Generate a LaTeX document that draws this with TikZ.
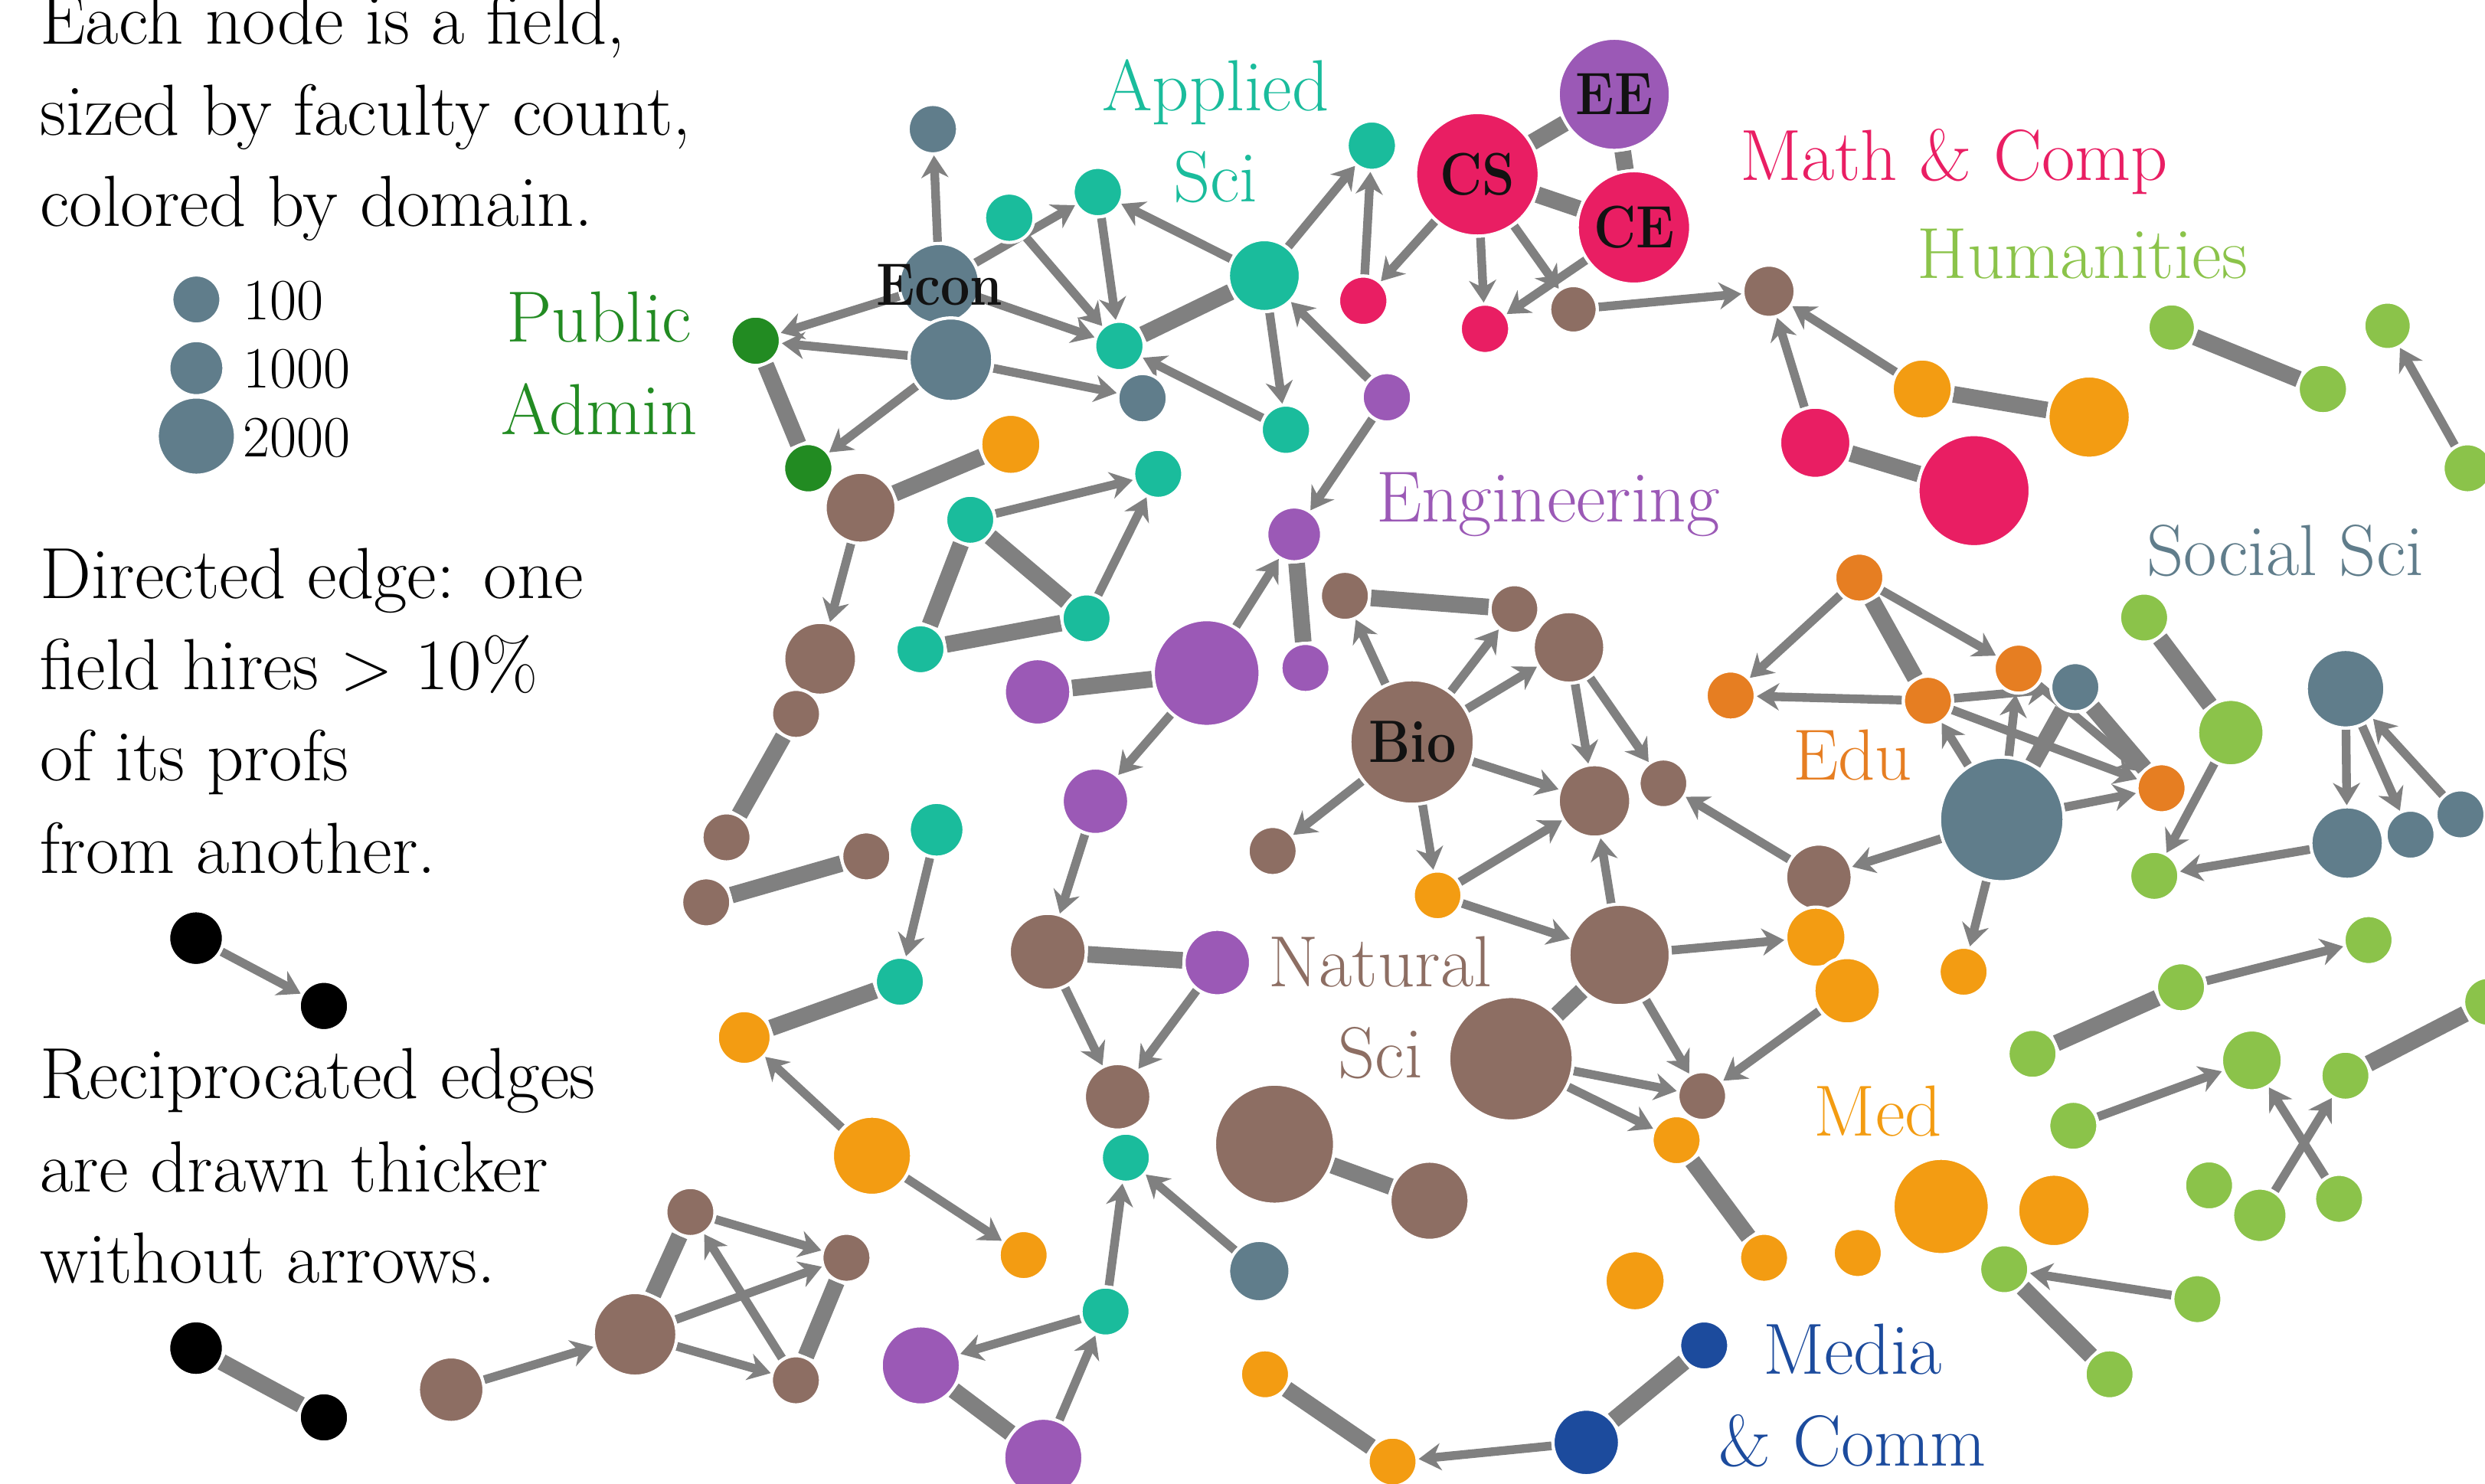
\documentclass[tikz,border=0pt]{standalone}
\usetikzlibrary{arrows.meta}

\definecolor{slate}{HTML}{607D8B}
\definecolor{tealc}{HTML}{1ABC9C}
\definecolor{mathred}{HTML}{E91E63}
\definecolor{engpurple}{HTML}{9B59B6}
\definecolor{natbrown}{HTML}{8D6E63}
\definecolor{medorange}{HTML}{F39C12}
\definecolor{eduorange}{HTML}{E67E22}
\definecolor{humgreen}{HTML}{8BC34A}
\definecolor{pagreen}{HTML}{228B22}
\definecolor{mcblue}{HTML}{1C4B9D}
\definecolor{edgegray}{HTML}{808080}

\pgfdeclarelayer{edges}
\pgfsetlayers{edges,main}

\newcommand{\fieldname}[1]{\scalebox{0.87}[1]{#1}}

\tikzset{
  fld/.style={circle, draw=white, line width=0.04cm, inner sep=0pt, outer sep=0.02cm,
              minimum size=#1*0.04cm+0.04cm},
  soc/.style={fld=#1, fill=slate},
  app/.style={fld=#1, fill=tealc},
  mth/.style={fld=#1, fill=mathred},
  eng/.style={fld=#1, fill=engpurple},
  nat/.style={fld=#1, fill=natbrown},
  med/.style={fld=#1, fill=medorange},
  edu/.style={fld=#1, fill=eduorange},
  hum/.style={fld=#1, fill=humgreen},
  pub/.style={fld=#1, fill=pagreen},
  mcm/.style={fld=#1, fill=mcblue},
  blk/.style={fld=#1, fill=black},
  dir/.style={draw=edgegray, line width=0.11cm,
              -{Stealth[length=0.28cm,width=0.34cm,inset=0.09cm]}},
  rec/.style={draw=edgegray, line width=0.21cm},
  txt/.style={inner sep=0pt, anchor=base west, text=black,
              font=\fontsize{26}{33}\selectfont},
  lab/.style={inner sep=0pt, anchor=base, font=\fontsize{26}{33}\selectfont},
  num/.style={inner sep=0pt, anchor=base west, text=black,
              font=\fontsize{21}{25}\selectfont},
  bold/.style={inner sep=0pt, text=black!93, font=\fontsize{21.5}{24}\selectfont\bfseries},
}

\begin{document}
\begin{tikzpicture}[x=0.02cm, y=-0.02cm]
\useasboundingbox (0,0) rectangle (1568,936);

% ---------- explanatory text ----------
\node[txt] (t1a) at (25,27.6)  {Each node is a field,};
\node[txt] (t1b) at (25,85.2)  {sized by faculty count,};
\node[txt] (t1c) at (25,142.8) {colored by domain.};
\node[txt] (t2a) at (25,377.6) {Directed edge: one};
\node[txt] (t2b) at (25,435.1) {field hires $>$ 10\%};
\node[txt] (t2c) at (25,492.7) {of its profs};
\node[txt] (t2d) at (25,551)   {from another.};
\node[txt] (t3a) at (25,693.2) {Reciprocated edges};
\node[txt] (t3b) at (25,751.9) {are drawn thicker};
\node[txt] (t3c) at (25,809.4) {without arrows.};

% ---------- size legend ----------
\node[soc=14.5] (lg1) at (123.9,189) {};
\node[soc=16.4] (lg2) at (123.9,232.3) {};
\node[soc=23.7] (lg3) at (123.9,275.2) {};
\node[num] (n100)  at (153,201.7) {100};
\node[num] (n1000) at (153,244.8) {1000};
\node[num] (n2000) at (153,288)   {2000};

% ---------- edge legend ----------
\node[blk=16.3] (bk1) at (123.7,592) {};
\node[blk=14.6] (bk2) at (204.4,634.8) {};
\node[blk=16.3] (bk3) at (123.7,850.7) {};
\node[blk=14.6] (bk4) at (204.4,894.4) {};

% ---------- domain labels ----------
\node[lab, text=tealc]      (lApp1) at (767,70)     {Applied};
\node[lab, text=tealc]      (lApp2) at (767,127.3)  {Sci};
\node[lab, text=pagreen]    (lPub1) at (378,215.7)  {Public};
\node[lab, text=pagreen]    (lPub2) at (378,274)    {Admin};
\node[lab, text=mathred]    (lMath) at (1233,113.7) {Math \& Comp};
\node[lab, text=humgreen]   (lHum)  at (1314,175.8) {Humanities};
\node[lab, text=engpurple, anchor=base west] (lEng) at (868,329.4) {Engineering};
\node[lab, text=slate]      (lSoc)  at (1442,363)   {Social Sci};
\node[lab, text=eduorange]  (lEdu)  at (1169,491.9) {Edu};
\node[lab, text=natbrown]   (lNat1) at (871,622.5)  {Natural};
\node[lab, text=natbrown]   (lNat2) at (871,680)    {Sci};
\node[lab, text=medorange]  (lMed)  at (1185,717)   {Med};
\node[lab, text=mcblue]     (lMc1)  at (1169,867)   {Media};
\node[lab, text=mcblue]     (lMc2)  at (1169,925)   {\& Comm};

% ---------- field nodes ----------
% public admin / economics
\node[pub=14.6] (pa1) at (476.8,215) {};
\node[pub=14.6] (pa2) at (510,295.5) {};
\node[soc=14.6] (stop) at (588.6,81.5) {};
\node[soc=24.4] (econ) at (592.7,179) {};
\node[soc=25.4] (sbg) at (600,227) {};
\node[soc=14.6] (ssm) at (720.9,251.3) {};
% applied sciences
\node[app=14.6] (a1) at (636.8,137.4) {};
\node[app=14.6] (a2) at (692.7,121.2) {};
\node[app=14.6] (a3) at (706.3,218.3) {};
\node[app=21.7] (abig) at (797.8,173.9) {};
\node[app=14.6] (a4) at (865.6,91.9) {};
\node[app=14.6] (a5) at (811.4,271.2) {};
\node[mth=14.6] (m1) at (860.2,189.8) {};
\node[eng=14.6] (p1) at (875.1,250.7) {};
\node[eng=16.3] (p2) at (816.6,337.2) {};
% math & computing
\node[mth=38]   (cs) at (932.2,110) {};
\node[eng=34.4] (ee) at (1018.6,59.5) {};
\node[mth=34.8] (ce) at (1031,143.5) {};
\node[mth=14.6] (m2) at (937,207.5) {};
\node[nat=14]   (b1) at (992.8,195.2) {};
\node[nat=15.5] (b2) at (1116.2,183.8) {};
\node[med=18]   (o1) at (1212.9,245.5) {};
\node[med=25]   (o2) at (1318.2,263.2) {};
\node[mth=21.5] (m3) at (1145.4,279.4) {};
\node[mth=34.4] (m4) at (1245.6,309.6) {};
% humanities, top right
\node[hum=14]   (h1) at (1370.3,206.7) {};
\node[hum=14.6] (h2) at (1465.7,245.5) {};
\node[hum=14]   (h3) at (1506.5,205.6) {};
\node[hum=14.5] (h4) at (1557,295.5) {};
% left middle
\node[med=18]   (org) at (637.8,280.4) {};
\node[nat=21.4] (b3) at (543,320.4) {};
\node[app=14.5] (a6) at (612.2,328) {};
\node[app=14.5] (a7) at (730.8,299) {};
\node[app=14.5] (a8) at (685.6,390.2) {};
\node[app=14.5] (a9) at (580.8,409.7) {};
\node[nat=22]   (b4) at (517.5,415.7) {};
\node[nat=14.5] (b5) at (502.3,450.5) {};
\node[nat=14.5] (b6) at (458.4,528.4) {};
\node[nat=14.5] (b7) at (445.6,569.4) {};
\node[nat=14.5] (b8) at (546.6,540.4) {};
\node[app=16.3] (a10) at (591,523.6) {};
% engineering
\node[eng=20]   (p3) at (654.7,436.6) {};
\node[eng=32.7] (pbig) at (761.4,424.7) {};
\node[eng=14.5] (p4) at (823.7,421.5) {};
\node[eng=20]   (p5) at (691.2,505.6) {};
% natural sciences
\node[nat=14.5] (b9)  at (848.6,376) {};
\node[nat=14.4] (b10) at (955.6,384.3) {};
\node[nat=21.6] (b11) at (990,408.5) {};
\node[nat=38.3] (bio) at (891,468.2) {};
\node[nat=21.9] (b12) at (1006.1,505.4) {};
\node[nat=14.4] (b13) at (1049.6,494.3) {};
\node[nat=14.5] (b14) at (803,537) {};
\node[med=14.4] (o3)  at (907.1,565) {};
\node[nat=31]   (b15) at (1021.9,602.6) {};
\node[nat=38.3] (b16) at (953.4,668.1) {};
\node[nat=20]   (b17) at (1147.7,553.6) {};
\node[med=18]   (o4)  at (1145.8,591.4) {};
\node[med=20]   (o5)  at (1165.5,625.2) {};
\node[nat=14.4] (b18) at (1074.1,691.6) {};
\node[med=14.5] (o6)  at (1057.9,719.5) {};
% education / social sciences
\node[edu=14.5] (e1) at (1173.2,364.5) {};
\node[edu=14.5] (e2) at (1092,438.9) {};
\node[edu=14.5] (e3) at (1216.5,442.2) {};
\node[edu=14.5] (e4) at (1273.7,421.9) {};
\node[soc=14.5] (s1) at (1309.5,433.6) {};
\node[edu=14.5] (e5) at (1363.9,497.4) {};
\node[soc=38.3] (sbig) at (1263.1,517.1) {};
\node[med=14.5] (o7) at (1239,613.2) {};
\node[hum=14.5] (h5) at (1352.9,389.7) {};
\node[hum=20]   (h6) at (1407.6,462.3) {};
\node[hum=14.5] (h7) at (1359.3,552.7) {};
\node[soc=23.8] (s2) at (1480,434.6) {};
\node[soc=21.9] (s3) at (1481,532) {};
\node[soc=14.5] (s4) at (1521,526.7) {};
\node[soc=14.5] (s5) at (1552.5,513.9) {};
% humanities, lower right
\node[hum=14.5] (h8)  at (1494.5,593.2) {};
\node[hum=14.5] (h9)  at (1376.2,623) {};
\node[hum=14.5] (h10) at (1282.5,665) {};
\node[hum=14.5] (h11) at (1570,632.2) {};
\node[hum=18.2] (h12) at (1420.9,669.1) {};
\node[hum=14.5] (h13) at (1479.9,678.8) {};
\node[hum=14.5] (h14) at (1308.2,710.4) {};
\node[hum=14.5] (h15) at (1393.9,748) {};
\node[hum=16.2] (h16) at (1425.9,766.9) {};
\node[hum=14.5] (h17) at (1475.9,756.5) {};
\node[hum=14.5] (h18) at (1264.6,800.9) {};
\node[hum=14.5] (h19) at (1386.5,819.8) {};
\node[hum=14.5] (h20) at (1331.1,867.2) {};
% medicine / media
\node[med=14.5] (o8)   at (1113.1,793.7) {};
\node[med=14.5] (o9)   at (1172.2,790.7) {};
\node[med=29.4] (obig) at (1224.8,761.3) {};
\node[med=21.9] (o10)  at (1296,763.8) {};
\node[med=18]   (o11)  at (1031.7,808.2) {};
\node[mcm=14.5] (mc1)  at (1075.3,849) {};
\node[mcm=20]   (mc2)  at (1000.9,910.2) {};
\node[med=14.5] (o12)  at (798.2,867.2) {};
\node[med=14.5] (o13)  at (878.7,922.3) {};
% lower middle
\node[nat=23.3] (b19) at (661.1,600.6) {};
\node[eng=20]   (p6)  at (768.1,607.4) {};
\node[nat=20]   (b20) at (705.2,692.1) {};
\node[app=14.5] (a11) at (710.4,730.5) {};
\node[app=14.5] (a12) at (697.6,827.6) {};
\node[soc=18.4] (s6)  at (794.6,802.1) {};
\node[eng=24]   (p7)  at (581,861.6) {};
\node[eng=24]   (p8)  at (658.3,919.9) {};
\node[nat=36.9] (b21) at (804.2,722) {};
\node[nat=24]   (b22) at (902,757.7) {};
\node[app=14.5] (a13) at (567.8,619.5) {};
\node[med=16]   (o14) at (469.6,654.7) {};
\node[med=24]   (o15) at (550.2,729.3) {};
\node[med=14.5] (o16) at (645.9,792) {};
% lower left cluster
\node[nat=14.5] (b23) at (435.6,764.8) {};
\node[nat=14.5] (b24) at (534.1,793.7) {};
\node[nat=14.5] (b25) at (502.2,871) {};
\node[nat=25.4] (b26) at (400.7,842) {};
\node[nat=19.7] (b27) at (284.7,876.9) {};

% ---------- names of the largest fields ----------
\node[bold] (lEcon) at (592.7,180) {\fieldname{Econ}};
\node[bold] (lCS)   at (932.2,110.2) {\fieldname{CS}};
\node[bold] (lEE)   at (1018.6,59.3) {\fieldname{EE}};
\node[bold] (lCE)   at (1031.3,143.5) {\fieldname{CE}};
\node[bold] (lBio)  at (891.3,468) {\fieldname{Bio}};

% ---------- connectors ----------
\begin{pgfonlayer}{edges}
% one-way hiring
\draw[dir] (bk1) -- (bk2);
\draw[dir] (econ) -- (stop);
\draw[dir] (econ) -- (a2);
\draw[dir] (econ) -- (a3);
\draw[dir] (econ) -- (pa1);
\draw[dir] (sbg) -- (pa1);
\draw[dir] (sbg) -- (ssm);
\draw[dir] (sbg) -- (pa2);
\draw[dir] (a1) -- (a3);
\draw[dir] (a2) -- (a3);
\draw[dir] (abig) -- (a2);
\draw[dir] (abig) -- (a4);
\draw[dir] (abig) -- (a5);
\draw[dir] (a5) -- (a3);
\draw[dir] (p1) -- (abig);
\draw[dir] (p1) -- (p2);
\draw[dir] (m1) -- (a4);
\draw[dir] (cs) -- (m1);
\draw[dir] (cs) -- (m2);
\draw[dir] (cs) -- (b1);
\draw[dir] (ce) -- (m2);
\draw[dir] (b1) -- (b2);
\draw[dir] (o1) -- (b2);
\draw[dir] (m3) -- (b2);
\draw[dir] (h4) -- (h3);
\draw[dir] (a6) -- (a7);
\draw[dir] (a8) -- (a7);
\draw[dir] (b3) -- (b4);
\draw[dir] (a10) -- (a13);
\draw[dir] (pbig) -- (p2);
\draw[dir] (pbig) -- (p5);
\draw[dir] (p5) -- (b19);
\draw[dir] (bio) -- (b9);
\draw[dir] (bio) -- (b10);
\draw[dir] (bio) -- (b11);
\draw[dir] (b11) -- (b12);
\draw[dir] (b11) -- (b13);
\draw[dir] (bio) -- (b12);
\draw[dir] (bio) -- (b14);
\draw[dir] (bio) -- (o3);
\draw[dir] (o3) -- (b12);
\draw[dir] (o3) -- (b15);
\draw[dir] (b15) -- (b12);
\draw[dir] (b17) -- (b13);
\draw[dir] (sbig) -- (b17);
\draw[dir] (b15) -- (o4);
\draw[dir] (b15) -- (b18);
\draw[dir] (b16) -- (b18);
\draw[dir] (b16) -- (o6);
\draw[dir] (o5) -- (b18);
\draw[dir] (e1) -- (e2);
\draw[dir] (e1) -- (e4);
\draw[dir] (e3) -- (e2);
\draw[dir] (e3) -- (s1);
\draw[dir] (e3) -- (e5);
\draw[dir] (e4) -- (e5);
\draw[dir] (sbig) -- (e3);
\draw[dir] (sbig) -- (e4);
\draw[dir] (sbig) -- (e5);
\draw[dir] (sbig) -- (o7);
\draw[dir] (h6) -- (h7);
\draw[dir] (s3) -- (h7);
\draw[dir] (s2) -- (s3);
\draw[dir] (s2) -- (s4);
\draw[dir] (s5) -- (s2);
\draw[dir] (h9) -- (h8);
\draw[dir] (h14) -- (h12);
\draw[dir] (h16) -- (h13);
\draw[dir] (h17) -- (h12);
\draw[dir] (h19) -- (h18);
\draw[dir] (mc2) -- (o13);
\draw[dir] (b19) -- (b20);
\draw[dir] (p6) -- (b20);
\draw[dir] (a12) -- (a11);
\draw[dir] (s6) -- (a11);
\draw[dir] (a12) -- (p7);
\draw[dir] (p8) -- (a12);
\draw[dir] (o15) -- (o14);
\draw[dir] (o15) -- (o16);
\draw[dir] (b23) -- (b24);
\draw[dir] (b26) -- (b24);
\draw[dir] (b25) -- (b23);
\draw[dir] (b26) -- (b25);
\draw[dir] (b27) -- (b26);
% reciprocated hiring
\draw[rec] (bk3) -- (bk4);
\draw[rec] (cs) -- (ee);
\draw[rec] (ee) -- (ce);
\draw[rec] (cs) -- (ce);
\draw[rec] (o1) -- (o2);
\draw[rec] (m3) -- (m4);
\draw[rec] (h1) -- (h2);
\draw[rec] (pa1) -- (pa2);
\draw[rec] (abig) -- (a3);
\draw[rec] (org) -- (b3);
\draw[rec] (a6) -- (a8);
\draw[rec] (a6) -- (a9);
\draw[rec] (a9) -- (a8);
\draw[rec] (p3) -- (pbig);
\draw[rec] (p2) -- (p4);
\draw[rec] (b5) -- (b6);
\draw[rec] (b7) -- (b8);
\draw[rec] (b9) -- (b10);
\draw[rec] (b15) -- (b16);
\draw[rec] (e1) -- (e3);
\draw[rec] (sbig) -- (s1);
\draw[rec] (s1) -- (e5);
\draw[rec] (h5) -- (h6);
\draw[rec] (h10) -- (h9);
\draw[rec] (h13) -- (h11);
\draw[rec] (h18) -- (h20);
\draw[rec] (o6) -- (o8);
\draw[rec] (mc1) -- (mc2);
\draw[rec] (o12) -- (o13);
\draw[rec] (b19) -- (p6);
\draw[rec] (a13) -- (o14);
\draw[rec] (p7) -- (p8);
\draw[rec] (b21) -- (b22);
\draw[rec] (b23) -- (b26);
\draw[rec] (b24) -- (b25);
\end{pgfonlayer}
\end{tikzpicture}
\end{document}
